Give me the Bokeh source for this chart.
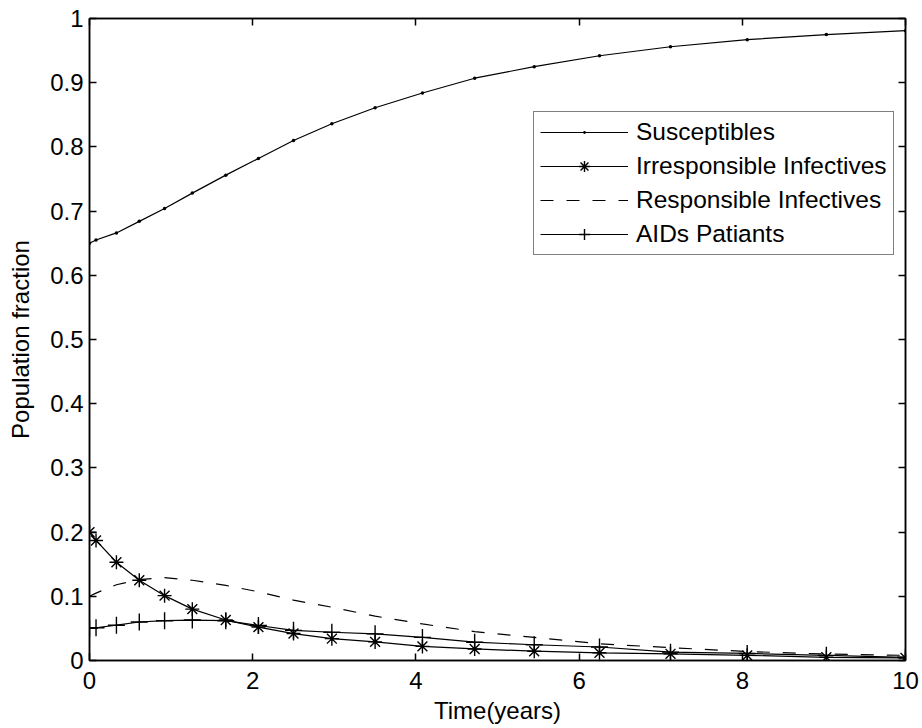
from bokeh.plotting import figure
from bokeh.models import (Range1d, LinearAxis, FixedTicker, CustomJSTickFormatter,
                          Legend, LegendItem)
from bokeh.embed import file_html
from bokeh.resources import INLINE

# ---- data ----
t = [0, 0.08, 0.33, 0.61, 0.92, 1.26, 1.67, 2.07, 2.5, 2.97, 3.5, 4.08,
     4.72, 5.45, 6.25, 7.12, 8.06, 9.03, 10]
susceptibles = [0.650, 0.655, 0.666, 0.684, 0.704, 0.728, 0.756, 0.782, 0.810,
                0.836, 0.861, 0.884, 0.907, 0.925, 0.942, 0.956, 0.967, 0.975, 0.981]
irresponsible = [0.200, 0.187, 0.153, 0.125, 0.101, 0.080, 0.063, 0.052, 0.042,
                 0.034, 0.029, 0.022, 0.018, 0.0145, 0.012, 0.0104, 0.008, 0.005, 0.004]
responsible = [0.100, 0.105, 0.118, 0.126, 0.129, 0.125, 0.117, 0.107, 0.094,
               0.083, 0.069, 0.057, 0.045, 0.036, 0.026, 0.020, 0.014, 0.010, 0.008]
aids = [0.050, 0.051, 0.055, 0.060, 0.062, 0.063, 0.062, 0.0545, 0.047,
        0.044, 0.0415, 0.036, 0.0285, 0.0245, 0.021, 0.013, 0.011, 0.008, 0.005]

x_ticks = [0, 2, 4, 6, 8, 10]
y_ticks = [0, 0.1, 0.2, 0.3, 0.4, 0.5, 0.6, 0.7, 0.8, 0.9, 1]
labels = ["Susceptibles", "Irresponsible Infectives", "Responsible Infectives", "AIDs Patiants"]

FONT = "Liberation Sans"

p = figure(width=922, height=728, output_backend="svg", toolbar_location=None,
           x_range=Range1d(0, 10), y_range=Range1d(0, 1),
           min_border_left=89, min_border_right=17, min_border_top=18, min_border_bottom=68)
p.grid.visible = False
p.outline_line_color = "black"
p.outline_line_width = 1.5
p.background_fill_color = "white"
p.border_fill_color = "white"

fmt = CustomJSTickFormatter(code="return tick.toFixed(1).replace(/\\.0$/, '');")


def style_axis(ax, show_labels=True):
    ax.axis_line_color = "black"
    ax.axis_line_width = 1.5
    ax.major_tick_in = 7
    ax.major_tick_out = 0
    ax.major_tick_line_color = "black"
    ax.major_tick_line_width = 1.5
    ax.minor_tick_line_color = None
    ax.major_label_text_font = FONT
    if show_labels:
        ax.major_label_text_font_size = "24px"
        ax.major_label_text_color = "black"
    else:
        ax.major_label_text_font_size = "1px"
        ax.major_label_text_color = None
        ax.major_label_standoff = 0
    ax.axis_label_text_font = FONT
    ax.axis_label_text_font_size = "24px"
    ax.axis_label_text_font_style = "normal"
    ax.axis_label_text_color = "black"


xa = p.xaxis[0]
xa.ticker = FixedTicker(ticks=x_ticks)
xa.axis_label = "Time(years)"
style_axis(xa)
xa.major_label_standoff = 11
xa.axis_label_standoff = 5

ya = p.yaxis[0]
ya.ticker = FixedTicker(ticks=y_ticks)
ya.formatter = fmt
ya.axis_label = "Population fraction"
style_axis(ya)
ya.major_label_standoff = 6
ya.axis_label_standoff = 13

top = LinearAxis(ticker=FixedTicker(ticks=x_ticks))
style_axis(top, show_labels=False)
p.add_layout(top, "above")
right = LinearAxis(ticker=FixedTicker(ticks=y_ticks))
style_axis(right, show_labels=False)
p.add_layout(right, "right")

# ---- series ----
s_line = p.line(t, susceptibles, line_color="black", line_width=1.2)
s_mark = p.scatter(t, susceptibles, marker="dot", size=14, line_color="black", fill_color="black")

i_line = p.line(t, irresponsible, line_color="black", line_width=1.2)
i_mark = p.scatter(t, irresponsible, marker="asterisk", size=14, line_color="black", line_width=1.4)

r_line = p.line(t, responsible, line_color="black", line_width=1.2, line_dash="13 13")

a_line = p.line(t, aids, line_color="black", line_width=1.2)
a_mark = p.scatter(t, aids, marker="cross", size=17, line_color="black", line_width=1.4)

legend = Legend(items=[
    LegendItem(label=labels[0], renderers=[s_line, s_mark]),
    LegendItem(label=labels[1], renderers=[i_line, i_mark]),
    LegendItem(label=labels[2], renderers=[r_line]),
    LegendItem(label=labels[3], renderers=[a_line, a_mark]),
], location=(444, 405))
legend.border_line_color = "black"
legend.border_line_width = 1.5
legend.background_fill_color = "white"
legend.background_fill_alpha = 1
legend.label_text_font = FONT
legend.label_text_font_size = "24.5px"
legend.label_text_color = "black"
legend.padding = 6
legend.spacing = 6
legend.glyph_width = 88
legend.glyph_height = 28
legend.label_height = 28
legend.label_standoff = 8
legend.margin = 0
p.add_layout(legend, "center")

open("out.html", "w").write(file_html(p, INLINE))
